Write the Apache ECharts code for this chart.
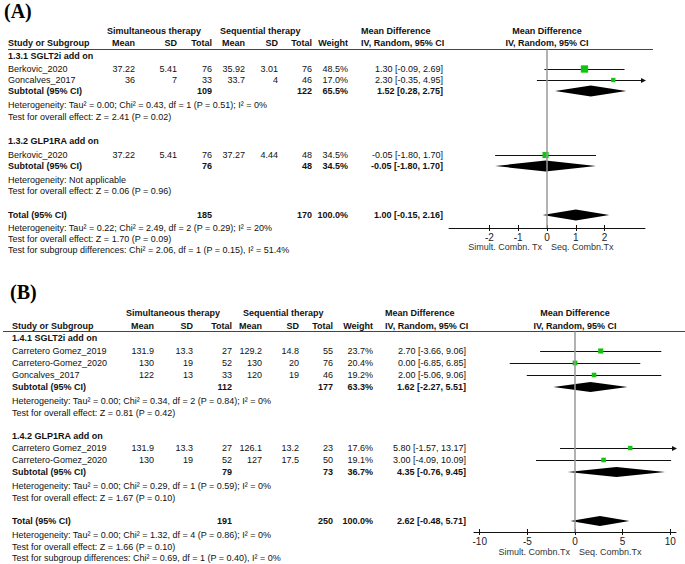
<!DOCTYPE html>
<html><head><meta charset="utf-8">
<script src="https://cdn.jsdelivr.net/npm/echarts@6/dist/echarts.min.js"></script>
<style>html,body{margin:0;padding:0;background:#fff}#c{width:685px;height:564px}</style>
</head><body><div id="c"></div>
<script>
// ================= DATA =================
const colHeaders = ['Mean', 'SD', 'Total', 'Mean', 'SD', 'Total', 'Weight'];
const groupHeaders = ['Simultaneous therapy', 'Sequential therapy'];
const mdHeaders = ['Mean Difference', 'IV, Random, 95% CI'];
const axisSideLabelsA = ['Simult. Combn. Tx', 'Seq. Combn.Tx'];
const axisSideLabelsB = ['Simult. Combn.Tx', 'Seq. Combn.Tx'];

// ---- Panel A ----
const groupNamesA = ['1.3.1 SGLT2i add on', '1.3.2 GLP1RA add on'];
const studyA = ['Berkovic_2020', 'Goncalves_2017', 'Berkovic_2020'];
const simMeanA = [37.22, 36, 37.22];
const simSdA = [5.41, 7, 5.41];
const simNA = [76, 33, 76];
const seqMeanA = [35.92, 33.7, 37.27];
const seqSdA = [3.01, 4, 4.44];
const seqNA = [76, 46, 48];
const weightA = [48.5, 17.0, 34.5];
const mdA = [1.30, 2.30, -0.05];
const loA = [-0.09, -0.35, -1.80];
const hiA = [2.69, 4.95, 1.70];
const subSimNA = [109, 76];
const subSeqNA = [122, 48];
const subWeightA = [65.5, 34.5];
const subMdA = [1.52, -0.05];
const subLoA = [0.28, -1.80];
const subHiA = [2.75, 1.70];
const subHetA = ['Heterogeneity: Tau² = 0.00; Chi² = 0.43, df = 1 (P = 0.51); I² = 0%', 'Heterogeneity: Not applicable'];
const subTestA = ['Test for overall effect: Z = 2.41 (P = 0.02)', 'Test for overall effect: Z = 0.06 (P = 0.96)'];
const totalNA = [185, 170];
const totalWeightA = 100.0;
const totalEffA = [1.00, -0.15, 2.16];
const totalNotesA = ['Heterogeneity: Tau² = 0.22; Chi² = 2.49, df = 2 (P = 0.29); I² = 20%', 'Test for overall effect: Z = 1.70 (P = 0.09)', 'Test for subgroup differences: Chi² = 2.06, df = 1 (P = 0.15), I² = 51.4%'];
const ticksA = [-2, -1, 0, 1, 2];

// ---- Panel B ----
const groupNamesB = ['1.4.1 SGLT2i add on', '1.4.2 GLP1RA add on'];
const studyB = ['Carretero Gomez_2019', 'Carretero-Gomez_2020', 'Goncalves_2017', 'Carretero Gomez_2019', 'Carretero-Gomez_2020'];
const simMeanB = [131.9, 130, 122, 131.9, 130];
const simSdB = [13.3, 19, 13, 13.3, 19];
const simNB = [27, 52, 33, 27, 52];
const seqMeanB = [129.2, 130, 120, 126.1, 127];
const seqSdB = [14.8, 20, 19, 13.2, 17.5];
const seqNB = [55, 76, 46, 23, 50];
const weightB = [23.7, 20.4, 19.2, 17.6, 19.1];
const mdB = [2.70, 0.00, 2.00, 5.80, 3.00];
const loB = [-3.66, -6.85, -5.06, -1.57, -4.09];
const hiB = [9.06, 6.85, 9.06, 13.17, 10.09];
const subSimNB = [112, 79];
const subSeqNB = [177, 73];
const subWeightB = [63.3, 36.7];
const subMdB = [1.62, 4.35];
const subLoB = [-2.27, -0.76];
const subHiB = [5.51, 9.45];
const subHetB = ['Heterogeneity: Tau² = 0.00; Chi² = 0.34, df = 2 (P = 0.84); I² = 0%', 'Heterogeneity: Tau² = 0.00; Chi² = 0.29, df = 1 (P = 0.59); I² = 0%'];
const subTestB = ['Test for overall effect: Z = 0.81 (P = 0.42)', 'Test for overall effect: Z = 1.67 (P = 0.10)'];
const totalNB = [191, 250];
const totalWeightB = 100.0;
const totalEffB = [2.62, -0.48, 5.71];
const totalNotesB = ['Heterogeneity: Tau² = 0.00; Chi² = 1.32, df = 4 (P = 0.86); I² = 0%', 'Test for overall effect: Z = 1.66 (P = 0.10)', 'Test for subgroup differences: Chi² = 0.69, df = 1 (P = 0.40), I² = 0%'];
const ticksB = [-10, -5, 0, 5, 10];

// ================= LAYOUT =================
const LA = {
  label: '(A)', titleX: 4, titleY: 11,
  hdr1: 31, hdr2: 43, line: 49.5, axisY: 228, axisNameY: 247,
  groupTitleY: [56, 141], studyY: [69, 80, 155], subY: [91, 166], hetY: [105, 180], testY: [117, 191],
  totalY: 215, totalNoteY: [228, 239, 250],
  x: {name: 8, simHdr: 107, seqHdr: 220, cols: [135, 177, 212, 245, 278, 312, 348], md: 443, mdHdr: 361, lineL: 8, lineR: 653},
  plot: {left: 449, width: 196, range: 3.4}, diamondH: 5.5
};
const LB = {
  label: '(B)', titleX: 10, titleY: 292,
  hdr1: 313, hdr2: 326, line: 331.5, axisY: 532, axisNameY: 552,
  groupTitleY: [338, 436], studyY: [351, 363, 375, 448, 460], subY: [387, 472], hetY: [401, 486], testY: [412.5, 498],
  totalY: 521, totalNoteY: [535, 547, 558],
  x: {name: 12, simHdr: 126, seqHdr: 243, cols: [154, 193, 232, 262, 299, 333, 373], md: 466, mdHdr: 385, lineL: 3, lineR: 685},
  plot: {left: 474, width: 202, range: 10.6}, diamondH: 5
};

// ================= BUILD =================
const FONT = '"Liberation Sans", Arial, Helvetica, sans-serif';
const INK = '#111';
const GREEN = '#10c410';
function T(x, y, text, o) {
  o = o || {};
  return {type: 'text', x: x, y: y, silent: true, z: 10,
    style: {text: String(text), fill: o.fill || INK, fontSize: o.size || 9, fontFamily: o.family || FONT,
      fontWeight: o.bold ? 'bold' : 'normal', align: o.align || 'left', verticalAlign: 'middle'}};
}
const f2 = v => v.toFixed(2);
const ci = (m, l, h) => f2(m) + ' [' + f2(l) + ', ' + f2(h) + ']';
const pct = v => v.toFixed(1) + '%';

function buildPanel(D, L, gi) {
  const g = [], X = L.x, C = X.cols;
  const zeroX = L.plot.left + L.plot.width / 2;
  g.push(T(L.titleX, L.titleY, L.label, {size: 20, bold: true, family: '"Liberation Serif", "Times New Roman", serif', fill: '#000'}));
  g.push(T(X.simHdr, L.hdr1, groupHeaders[0], {bold: true}));
  g.push(T(X.seqHdr, L.hdr1, groupHeaders[1], {bold: true}));
  g.push(T(X.mdHdr, L.hdr1, mdHeaders[0], {bold: true}));
  g.push(T(X.mdHdr, L.hdr2, mdHeaders[1], {bold: true}));
  g.push(T(zeroX, L.hdr1, mdHeaders[0], {bold: true, align: 'center'}));
  g.push(T(zeroX, L.hdr2, mdHeaders[1], {bold: true, align: 'center'}));
  g.push(T(X.name, L.hdr2, 'Study or Subgroup', {bold: true}));
  colHeaders.forEach((h, i) => g.push(T(C[i], L.hdr2, h, {bold: true, align: 'right'})));
  g.push({type: 'line', silent: true, shape: {x1: X.lineL, y1: L.line, x2: X.lineR, y2: L.line}, style: {stroke: '#444', lineWidth: 1.2}});
  // studies
  D.study.forEach((s, i) => {
    const y = L.studyY[i];
    g.push(T(X.name, y, s));
    const vals = [D.simMean[i], D.simSd[i], D.simN[i], D.seqMean[i], D.seqSd[i], D.seqN[i], pct(D.weight[i])];
    vals.forEach((v, k) => g.push(T(C[k], y, v, {align: 'right'})));
    g.push(T(X.md, y, ci(D.md[i], D.lo[i], D.hi[i]), {align: 'right'}));
  });
  // subgroups
  D.groups.forEach((gn, k) => {
    g.push(T(X.name, L.groupTitleY[k], gn, {bold: true}));
    const y = L.subY[k];
    g.push(T(X.name, y, 'Subtotal (95% CI)', {bold: true}));
    g.push(T(C[2], y, D.subSimN[k], {bold: true, align: 'right'}));
    g.push(T(C[5], y, D.subSeqN[k], {bold: true, align: 'right'}));
    g.push(T(C[6], y, pct(D.subWeight[k]), {bold: true, align: 'right'}));
    g.push(T(X.md, y, ci(D.subMd[k], D.subLo[k], D.subHi[k]), {bold: true, align: 'right'}));
    g.push(T(X.name, L.hetY[k], D.subHet[k]));
    g.push(T(X.name, L.testY[k], D.subTest[k]));
  });
  // total
  g.push(T(X.name, L.totalY, 'Total (95% CI)', {bold: true}));
  g.push(T(C[2], L.totalY, D.totalN[0], {bold: true, align: 'right'}));
  g.push(T(C[5], L.totalY, D.totalN[1], {bold: true, align: 'right'}));
  g.push(T(C[6], L.totalY, pct(D.totalWeight), {bold: true, align: 'right'}));
  g.push(T(X.md, L.totalY, ci(D.totalEff[0], D.totalEff[1], D.totalEff[2]), {bold: true, align: 'right'}));
  D.totalNotes.forEach((n, k) => g.push(T(X.name, L.totalNoteY[k], n)));
  // axis side labels
  g.push(T(zeroX - 5, L.axisNameY, D.sideLabels[0], {align: 'right', fill: '#333'}));
  g.push(T(zeroX + 4, L.axisNameY, D.sideLabels[1], {fill: '#333'}));

  const R = L.plot.range;
  const grid = {left: L.plot.left, top: L.line, width: L.plot.width, height: L.axisY - L.line};
  const xBase = {type: 'value', gridIndex: gi, min: -R, max: R, position: 'bottom', splitLine: {show: false}};
  const xAxes = [
    Object.assign({}, xBase, {
      axisLine: {show: true, lineStyle: {color: '#111', width: 1}},
      axisTick: {show: true, length: 3, customValues: D.ticks, lineStyle: {color: '#111'}},
      axisLabel: {show: true, customValues: D.ticks, margin: 4, fontSize: 10, color: '#222', fontFamily: FONT}
    }),
    Object.assign({}, xBase, {
      offset: 0,
      axisLine: {show: false},
      axisTick: {show: true, inside: true, length: 3, customValues: D.ticks, lineStyle: {color: '#111'}},
      axisLabel: {show: false, color: '#222'}
    })
  ];
  const yAxis = {type: 'value', gridIndex: gi, min: L.line, max: L.axisY, inverse: true, show: false};
  const xi = gi * 2, yi = gi;
  const ciData = D.md.map((m, i) => [m, D.lo[i], D.hi[i], L.studyY[i]]);
  const sqData = D.md.map((m, i) => [m, L.studyY[i], D.weight[i]]);
  const dmData = D.subMd.map((m, k) => [m, D.subLo[k], D.subHi[k], L.subY[k]])
    .concat([[D.totalEff[0], D.totalEff[1], D.totalEff[2], L.totalY]]);
  const series = [
    {type: 'custom', xAxisIndex: xi, yAxisIndex: yi, clip: false, silent: true, data: ciData, z: 3,
      renderItem: function (params, api) {
        const lo = api.value(1), hi = api.value(2), yv = api.value(3);
        const a = api.coord([Math.max(lo, -R), yv]), b = api.coord([Math.min(hi, R), yv]);
        const y = Math.round(a[1]) + 0.5;
        const ch = [{type: 'line', shape: {x1: a[0], y1: y, x2: b[0], y2: y}, style: {stroke: '#111', lineWidth: 1}}];
        if (hi > R) ch.push({type: 'polygon', shape: {points: [[b[0] + 1, y], [b[0] - 4, y - 2.5], [b[0] - 4, y + 2.5]]}, style: {fill: '#111'}});
        if (lo < -R) ch.push({type: 'polygon', shape: {points: [[a[0] - 1, y], [a[0] + 4, y - 2.5], [a[0] + 4, y + 2.5]]}, style: {fill: '#111'}});
        return {type: 'group', children: ch};
      }},
    {type: 'scatter', xAxisIndex: xi, yAxisIndex: yi, silent: true, data: sqData, z: 4,
      symbol: 'rect', symbolSize: v => 1.05 * Math.sqrt(v[2]),
      itemStyle: {color: GREEN, opacity: 1}},
    {type: 'custom', xAxisIndex: xi, yAxisIndex: yi, clip: false, silent: true, data: dmData, z: 3,
      renderItem: function (params, api) {
        const m = api.coord([api.value(0), api.value(3)]);
        const a = api.coord([api.value(1), api.value(3)]);
        const b = api.coord([api.value(2), api.value(3)]);
        const h = L.diamondH;
        return {type: 'polygon', shape: {points: [[a[0], m[1]], [m[0], m[1] - h], [b[0], m[1]], [m[0], m[1] + h]]}, style: {fill: '#000'}};
      },
      markLine: {silent: true, symbol: 'none', label: {show: false}, animation: false,
        lineStyle: {color: '#999', width: 1.5, type: 'solid'}, data: [{xAxis: 0}]}}
  ];
  return {graphics: g, grid, xAxes, yAxis, series};
}

const PA = buildPanel({
  groups: groupNamesA, study: studyA, simMean: simMeanA, simSd: simSdA, simN: simNA, seqMean: seqMeanA, seqSd: seqSdA, seqN: seqNA,
  weight: weightA, md: mdA, lo: loA, hi: hiA, subSimN: subSimNA, subSeqN: subSeqNA, subWeight: subWeightA,
  subMd: subMdA, subLo: subLoA, subHi: subHiA, subHet: subHetA, subTest: subTestA,
  totalN: totalNA, totalWeight: totalWeightA, totalEff: totalEffA, totalNotes: totalNotesA, ticks: ticksA, sideLabels: axisSideLabelsA
}, LA, 0);
const PB = buildPanel({
  groups: groupNamesB, study: studyB, simMean: simMeanB, simSd: simSdB, simN: simNB, seqMean: seqMeanB, seqSd: seqSdB, seqN: seqNB,
  weight: weightB, md: mdB, lo: loB, hi: hiB, subSimN: subSimNB, subSeqN: subSeqNB, subWeight: subWeightB,
  subMd: subMdB, subLo: subLoB, subHi: subHiB, subHet: subHetB, subTest: subTestB,
  totalN: totalNB, totalWeight: totalWeightB, totalEff: totalEffB, totalNotes: totalNotesB, ticks: ticksB, sideLabels: axisSideLabelsB
}, LB, 1);

const chart = echarts.init(document.getElementById('c'), null, {renderer: 'svg', width: 685, height: 564});
chart.setOption({
  animation: false,
  backgroundColor: '#fff',
  grid: [PA.grid, PB.grid],
  xAxis: PA.xAxes.concat(PB.xAxes),
  yAxis: [PA.yAxis, PB.yAxis],
  series: PA.series.concat(PB.series),
  graphic: {elements: PA.graphics.concat(PB.graphics)}
});
</script>
</body></html>
